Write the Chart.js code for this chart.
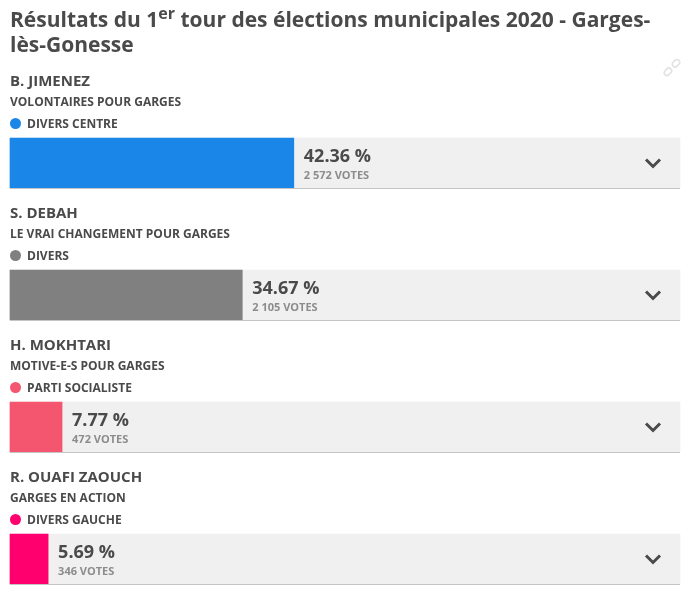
<!DOCTYPE html>
<html lang="fr">
<head>
<meta charset="utf-8">
<title>Résultats municipales 2020 - Garges-lès-Gonesse</title>
<script src="https://cdn.jsdelivr.net/npm/chart.js@4"></script>
<style>
    html, body { margin: 0; padding: 0; background: #fff; width: 689px; height: 595px; overflow: hidden; }
    #title {
        position: absolute; left: 10px; top: 7px; width: 660px; margin: 0;
        font: 700 21px/25px "Open Sans", sans-serif; color: #4a4a4a;
    }
    #title sup { font-size: 16px; line-height: 0; }
    #link { position: absolute; left: 663px; top: 59px; }
    #results { position: absolute; left: 0; top: 0; }
</style>
</head>
<body>
<canvas id="results" width="689" height="595"></canvas>
<h1 id="title">Résultats du 1<sup>er</sup> tour des élections municipales 2020 - Garges-lès-Gonesse</h1>
<svg id="link" width="18" height="18" viewBox="0 0 18 18" fill="none" stroke="#e2e2e2" stroke-width="1.6">
    <rect x="9" y="1.5" width="8" height="5.5" rx="2.7" transform="rotate(-45 13 4.2)"></rect>
    <rect x="1" y="10" width="8" height="5.5" rx="2.7" transform="rotate(-45 5 12.8)"></rect>
</svg>
<script>
const candidates = ["B. JIMENEZ", "S. DEBAH", "H. MOKHTARI", "R. OUAFI ZAOUCH"];
const lists = ["VOLONTAIRES POUR GARGES", "LE VRAI CHANGEMENT POUR GARGES", "MOTIVE-E-S POUR GARGES", "GARGES EN ACTION"];
const parties = ["DIVERS CENTRE", "DIVERS", "PARTI SOCIALISTE", "DIVERS GAUCHE"];
const percents = [42.36, 34.67, 7.77, 5.69];
const votes = ["2 572 VOTES", "2 105 VOTES", "472 VOTES", "346 VOTES"];
const partyColors = ["#1a86e8", "#808080", "#f4566f", "#ff006e"];
const track = [100, 100, 100, 100];

const textColor = "#4a4a4a";
const fontFamily = '"Open Sans", sans-serif';

// names, lists, percentages and the chevrons are placed from the bar positions
const rowLabels = {
    id: "rowLabels",
    afterDatasetsDraw(chart) {
        const ctx = chart.ctx;
        const x = chart.scales.x;
        const y = chart.scales.y;
        ctx.save();
        ctx.textBaseline = "alphabetic";
        ctx.textAlign = "left";
        candidates.forEach(function(name, i) {
            const mid = y.getPixelForValue(i);
            const left = x.getPixelForValue(0);
            ctx.fillStyle = textColor;
            ctx.font = "700 15px " + fontFamily;
            ctx.fillText(name, left, mid - 77);
            ctx.font = "700 12px " + fontFamily;
            ctx.fillText(lists[i], left, mid - 57);
            ctx.fillText(parties[i], left + 17, mid - 35);
            ctx.fillStyle = partyColors[i];
            ctx.beginPath();
            ctx.arc(left + 5.5, mid - 39.5, 5.5, 0, Math.PI * 2);
            ctx.fill();

            const end = x.getPixelForValue(percents[i]);
            ctx.fillStyle = textColor;
            ctx.font = "700 18px " + fontFamily;
            ctx.fillText(percents[i].toFixed(2) + " %", end + 10, mid - 1);
            ctx.fillStyle = "#8c8c8c";
            ctx.font = "700 11px " + fontFamily;
            ctx.fillText(votes[i], end + 10, mid + 16);

            // thin rule under the row
            ctx.fillStyle = "#c4c4c4";
            ctx.fillRect(left, mid + 25, x.getPixelForValue(100) - left, 1);

            ctx.strokeStyle = textColor;
            ctx.lineWidth = 3;
            ctx.beginPath();
            ctx.moveTo(646, mid - 3.5);
            ctx.lineTo(653, mid + 3.5);
            ctx.lineTo(660, mid - 3.5);
            ctx.stroke();
        });
        ctx.restore();
    }
};

new Chart(document.getElementById("results").getContext("2d"), {
    type: "bar",
    data: {
        labels: candidates,
        datasets: [{
            label: "Résultat",
            data: percents,
            backgroundColor: partyColors,
            barThickness: 50,
            clip: false,
            order: 1
        }, {
            label: "Total",
            data: track,
            backgroundColor: "#f0f0f0",
            barThickness: 50,
            clip: false,
            order: 2
        }]
    },
    options: {
        indexAxis: "y",
        responsive: false,
        animation: false,
        layout: { padding: { left: 10, right: 9, top: 163, bottom: 36 } },
        plugins: { legend: { display: false }, tooltip: { enabled: false } },
        datasets: { bar: { grouped: false } },
        scales: {
            x: { display: false, min: 0, max: 100 },
            y: { display: false, offset: false }
        }
    },
    plugins: [rowLabels]
});
</script>
</body>
</html>
